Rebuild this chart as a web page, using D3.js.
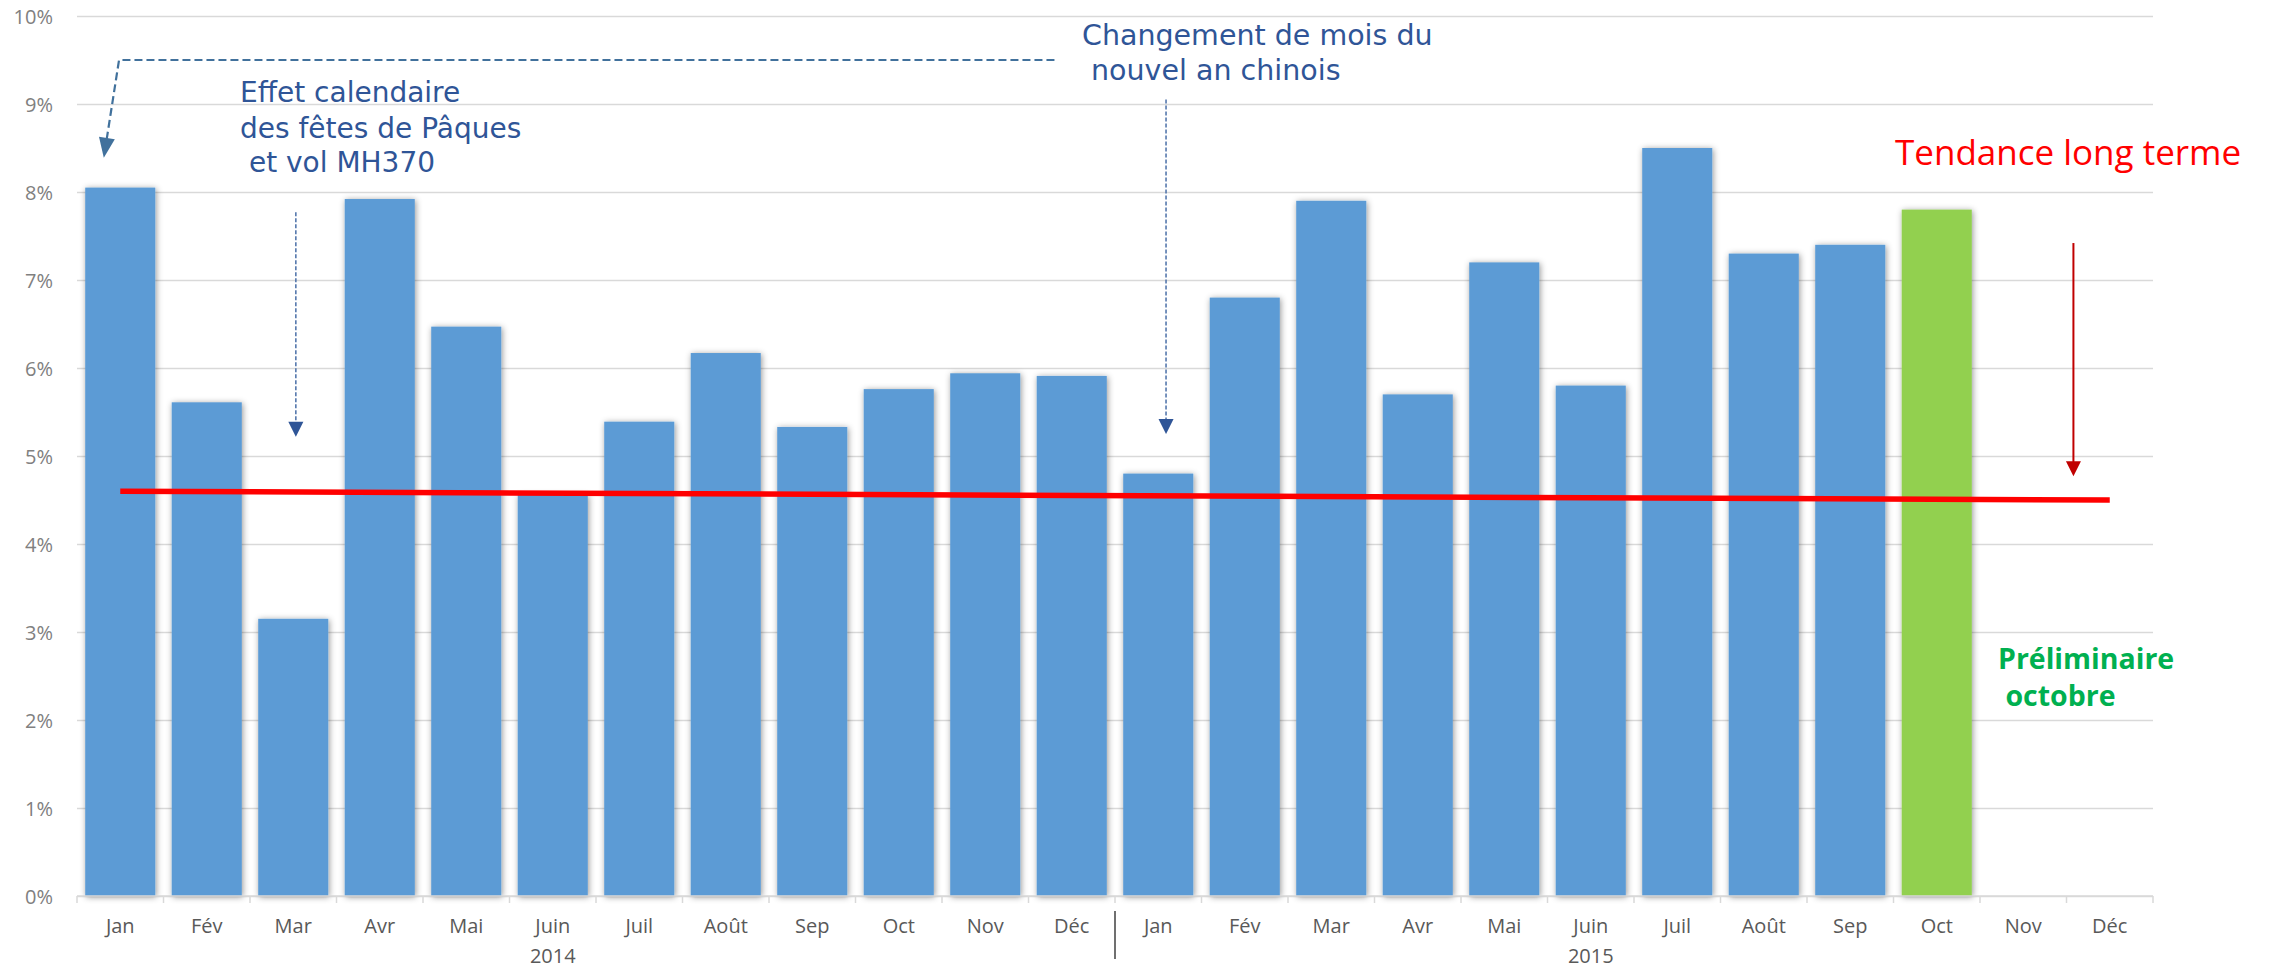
<!DOCTYPE html>
<html>
<head>
<meta charset="utf-8">
<script src="https://cdn.jsdelivr.net/npm/d3@7"></script>
<style>
  html, body { margin: 0; padding: 0; background: #ffffff; }
  svg { display: block; }
</style>
</head>
<body>
<svg id="chart" width="2270" height="969"></svg>
<script>
// ---------- DATA ----------
const months = ["Jan","Fév","Mar","Avr","Mai","Juin","Juil","Août","Sep","Oct","Nov","Déc"];
const years = ["2014","2015"];
const values2014 = [8.05, 5.61, 3.15, 7.92, 6.47, 4.56, 5.39, 6.17, 5.33, 5.76, 5.94, 5.91];
const values2015 = [4.80, 6.80, 7.90, 5.70, 7.20, 5.80, 8.50, 7.30, 7.40, 7.80, null, null];
const preliminaryMonth = ["2015", "Oct"];
const yTicks = [0,1,2,3,4,5,6,7,8,9,10];
// long term trend (start = Jan 2014, end = Déc 2015)
const trendCats = ["2014-Jan", "2015-Déc"];
const trendValues = [4.6, 4.5];

// ---------- LAYOUT ----------
const svg = d3.select("#chart");
const plotLeft = 77, plotRight = 2153, plotTop = 16, plotBottom = 896;

const rows = [];
years.forEach((yr, yi) => {
  const vals = yi === 0 ? values2014 : values2015;
  months.forEach((m, mi) => rows.push({ key: yr + "-" + m, year: yr, month: m, value: vals[mi],
    prelim: yr === preliminaryMonth[0] && m === preliminaryMonth[1] }));
});

const x = d3.scaleBand().domain(rows.map(d => d.key)).range([plotLeft, plotRight])
  .paddingInner(0.19).paddingOuter(0.095);
const y = d3.scaleLinear().domain([0, 10]).range([plotBottom, plotTop]);
const step = x.step();
const xAt = i => x.range()[0] + i * step;   // fractional band position
const xc = k => x(k) + x.bandwidth() / 2;

const defs = svg.append("defs");
const f = defs.append("filter").attr("id", "shadow").attr("x", "-20%").attr("y", "-5%")
  .attr("width", "140%").attr("height", "110%");
f.append("feDropShadow").attr("dx", 1).attr("dy", 1).attr("stdDeviation", 3)
  .attr("flood-color", "#000").attr("flood-opacity", 0.42);

// ---------- GRID + Y AXIS ----------
const yAxis = d3.axisLeft(y).tickValues(yTicks).tickFormat(d => d + "%")
  .tickSize(-(plotRight - plotLeft)).tickPadding(24);
const gy = svg.append("g").attr("transform", `translate(${plotLeft},0)`).call(yAxis);
gy.select(".domain").remove();
gy.selectAll(".tick line").attr("stroke", "#d9d9d9").attr("stroke-width", 1.5);
gy.selectAll(".tick text").attr("fill", "#808080").attr("font-family", "'Open Sans', sans-serif")
  .attr("font-size", 20).attr("dy", "0.36em");

// ---------- BARS ----------
svg.append("g").selectAll("rect").data(rows.filter(d => d.value != null)).join("rect")
  .attr("x", d => x(d.key)).attr("width", x.bandwidth())
  .attr("y", d => y(d.value)).attr("height", d => y(0) - y(d.value))
  .attr("fill", d => d.prelim ? "#92d050" : "#5b9bd5")
  .attr("filter", "url(#shadow)");

// ---------- X AXIS ----------
svg.append("line").attr("x1", plotLeft).attr("x2", plotRight).attr("y1", y(0)).attr("y2", y(0))
  .attr("stroke", "#d9d9d9").attr("stroke-width", 1.5);
svg.append("g").selectAll("line").data(d3.range(rows.length + 1)).join("line")
  .attr("x1", i => xAt(i)).attr("x2", i => xAt(i))
  .attr("y1", y(0)).attr("y2", y(0) + 7).attr("stroke", "#d9d9d9").attr("stroke-width", 1.5);

const xAxis = d3.axisBottom(x).tickSize(0).tickPadding(0).tickFormat(k => k.split("-")[1]);
const gx = svg.append("g").attr("transform", `translate(0,${y(0) + 37})`).call(xAxis);
gx.select(".domain").remove();
gx.selectAll(".tick text").attr("fill", "#595959").attr("font-family", "'Open Sans', sans-serif")
  .attr("font-size", 20).attr("dy", 0);

// year labels under "Juin"
svg.append("g").selectAll("text").data(years).join("text")
  .attr("x", yr => xc(yr + "-Juin")).attr("y", 963)
  .attr("text-anchor", "middle").attr("fill", "#595959")
  .attr("font-family", "'Open Sans', sans-serif").attr("font-size", 20)
  .text(yr => yr);

// year separator
svg.append("line").attr("x1", xAt(12)).attr("x2", xAt(12)).attr("y1", 911).attr("y2", 959)
  .attr("stroke", "#404040").attr("stroke-width", 1.5);

// ---------- TREND LINE ----------
const trendLine = d3.line().x(d => xc(d[0])).y(d => y(d[1]));
svg.append("path").datum(trendCats.map((c, i) => [c, trendValues[i]]))
  .attr("d", trendLine).attr("fill", "none").attr("stroke", "#ff0000").attr("stroke-width", 5.5);

// ---------- ANNOTATIONS ----------
function arrowHead(tipX, tipY, dirX, dirY, size, w, color) {
  const len = Math.hypot(dirX, dirY), ux = dirX / len, uy = dirY / len;
  const bx = tipX - ux * size, by = tipY - uy * size;
  const px = -uy * w / 2, py = ux * w / 2;
  svg.append("path").attr("d", `M${tipX},${tipY}L${bx + px},${by + py}L${bx - px},${by - py}Z`)
    .attr("fill", color);
}

// arrow 1 : Jan 2014 (dashed, elbow)
const a1 = [[11.3, 9.5], [0.486, 9.5], [0.31, 8.39]];
const a1pts = a1.map(p => [xAt(p[0]), y(p[1])]);
const shaft1End = [a1pts[2][0] + (a1pts[1][0] - a1pts[2][0]) * 0.17, a1pts[2][1] + (a1pts[1][1] - a1pts[2][1]) * 0.17];
svg.append("path").attr("d", d3.line()([a1pts[0], a1pts[1], shaft1End]))
  .attr("fill", "none").attr("stroke", "#41719c").attr("stroke-width", 2.2).attr("stroke-dasharray", "8,4");
arrowHead(a1pts[2][0], a1pts[2][1], a1pts[2][0] - a1pts[1][0], a1pts[2][1] - a1pts[1][1], 20, 16, "#41719c");

// arrow 2 : Mar 2014 (dotted vertical)
const a2 = { i: 2.53, from: 7.77, to: 5.22 };
svg.append("line").attr("x1", xAt(a2.i)).attr("x2", xAt(a2.i)).attr("y1", y(a2.from)).attr("y2", y(a2.to) - 14)
  .attr("stroke", "#4a6fa8").attr("stroke-width", 1.5).attr("stroke-dasharray", "4,2");
arrowHead(xAt(a2.i), y(a2.to), 0, 1, 15, 15, "#2f5597");

// arrow 3 : Jan 2015 (dotted vertical)
const a3 = { i: 12.59, from: 9.05, to: 5.25 };
svg.append("line").attr("x1", xAt(a3.i)).attr("x2", xAt(a3.i)).attr("y1", y(a3.from)).attr("y2", y(a3.to) - 14)
  .attr("stroke", "#4a6fa8").attr("stroke-width", 1.5).attr("stroke-dasharray", "4,2");
arrowHead(xAt(a3.i), y(a3.to), 0, 1, 15, 15, "#2f5597");

// red arrow
const a4 = { i: 23.08, from: 7.42, to: 4.77 };
svg.append("line").attr("x1", xAt(a4.i)).attr("x2", xAt(a4.i)).attr("y1", y(a4.from)).attr("y2", y(a4.to) - 12)
  .attr("stroke", "#c00000").attr("stroke-width", 2);
arrowHead(xAt(a4.i), y(a4.to), 0, 1, 15, 15, "#c00000");

// texts
function multiText(lines, color, size, weight, family) {
  const g = svg.append("g");
  lines.forEach(l => {
    g.append("text").attr("x", l[0]).attr("y", l[1]).attr("fill", color)
      .attr("font-family", family).attr("font-size", size).attr("font-weight", weight)
      .attr("xml:space", "preserve").text(l[2]);
  });
}
const blueFont = "'DejaVu Sans', sans-serif";
multiText([[240, 102, "Effet calendaire"], [240, 138, "des fêtes de Pâques"], [240, 172, " et vol MH370"]],
  "#2f5597", 28, "normal", blueFont);
multiText([[1082, 45, "Changement de mois du"], [1082, 80, " nouvel an chinois"]],
  "#2f5597", 28.5, "normal", blueFont);
multiText([[1895, 165, "Tendance long terme"]], "#ff0000", 35, "normal", "'Open Sans', sans-serif");
multiText([[1998, 669, "Préliminaire"], [1998, 706, " octobre"]], "#00b050", 28.5, "bold", "'Open Sans', sans-serif");
</script>
</body>
</html>
